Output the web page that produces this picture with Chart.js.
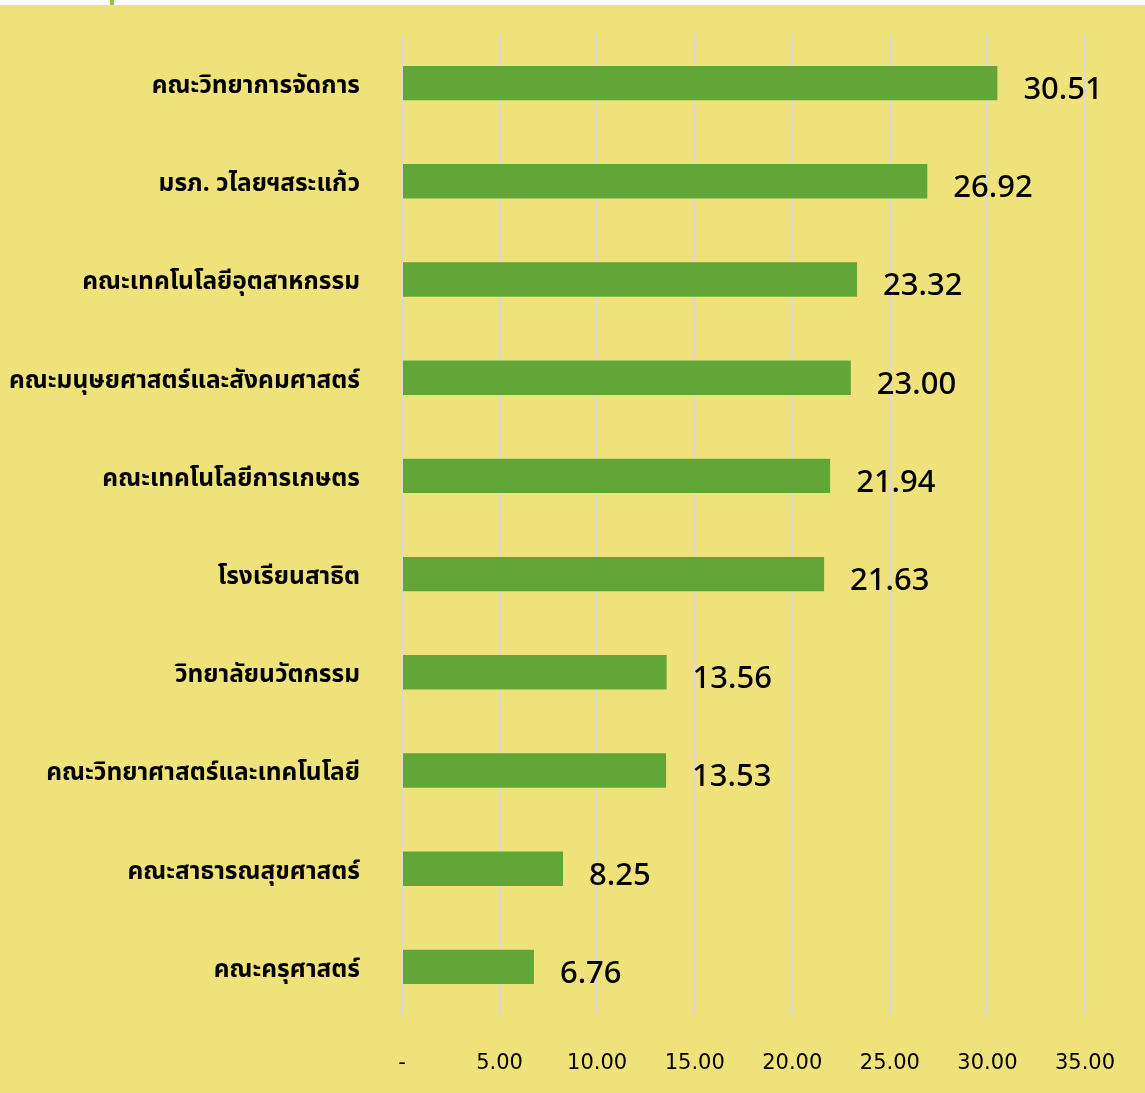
<!DOCTYPE html>
<html lang="th">
<head>
<meta charset="UTF-8">
<title>Faculty chart</title>
<script src="https://cdn.jsdelivr.net/npm/chart.js"></script>
<style>
    html, body { margin: 0; padding: 0; background: #ffffff; }
    #mark { position: absolute; left: 110px; top: 0; width: 4px; height: 5px; background: #8cc63e; }
    #wrap { position: absolute; left: 0; top: 5px; width: 1145px; height: 1088px; background: #f0e27b; }
</style>
</head>
<body>
<div id="mark"></div>
<div id="wrap"><canvas id="chart"></canvas></div>
<script>
const categories = [
    "คณะวิทยาการจัดการ",
    "มรภ. วไลยฯสระแก้ว",
    "คณะเทคโนโลยีอุตสาหกรรม",
    "คณะมนุษยศาสตร์และสังคมศาสตร์",
    "คณะเทคโนโลยีการเกษตร",
    "โรงเรียนสาธิต",
    "วิทยาลัยนวัตกรรม",
    "คณะวิทยาศาสตร์และเทคโนโลยี",
    "คณะสาธารณสุขศาสตร์",
    "คณะครุศาสตร์"
];
const values = [30.51, 26.92, 23.32, 23.00, 21.94, 21.63, 13.56, 13.53, 8.25, 6.76];
const xTicks = [0, 5, 10, 15, 20, 25, 30, 35];

const FONT = "'Noto Sans', 'Noto Sans Thai', Tahoma, sans-serif";

// draw the value to the right of each bar
const valueLabels = {
    id: "valueLabels",
    afterDatasetsDraw(chart) {
        const ctx = chart.ctx;
        const meta = chart.getDatasetMeta(0);
        ctx.save();
        ctx.font = "500 31px " + FONT;
        ctx.fillStyle = "#000000";
        ctx.textAlign = "left";
        ctx.textBaseline = "middle";
        meta.data.forEach((bar, i) => {
            ctx.fillText(values[i].toFixed(2), bar.x + 26, bar.y + 7);
        });
        ctx.restore();
    }
};

new Chart(document.getElementById("chart"), {
    type: "bar",
    data: {
        labels: categories,
        datasets: [{
            data: values,
            backgroundColor: "#63a638",
            borderWidth: 0,
            barPercentage: 1,
            categoryPercentage: 0.35
        }]
    },
    options: {
        indexAxis: "y",
        responsive: true,
        maintainAspectRatio: false,
        animation: false,
        layout: { padding: { top: 29, right: 60, left: 0, bottom: 0 } },
        plugins: { legend: { display: false }, tooltip: { enabled: false } },
        scales: {
            x: {
                min: 0,
                max: 35,
                afterFit(scale) {
                    scale.height = 77;
                    scale.paddingLeft = 0;
                    scale.paddingRight = 0;
                },
                afterBuildTicks(scale) { scale.ticks = xTicks.map(v => ({ value: v })); },
                grid: { color: "#d9d9d9", lineWidth: 2, drawTicks: false },
                border: { display: false },
                ticks: {
                    padding: 35,
                    color: "#000000",
                    font: { family: "'DejaVu Sans', sans-serif", size: 21 },
                    callback: v => v === 0 ? "-" : v.toFixed(2)
                }
            },
            y: {
                afterFit(scale) {
                    scale.width = 402;
                    scale.paddingTop = 0;
                    scale.paddingBottom = 0;
                },
                grid: { display: false, drawTicks: false },
                border: { display: false },
                ticks: {
                    padding: 42,
                    labelOffset: 3,
                    color: "#000000",
                    font: { family: FONT, size: 24.5, weight: "bold" }
                }
            }
        }
    },
    plugins: [valueLabels]
});
</script>
</body>
</html>
